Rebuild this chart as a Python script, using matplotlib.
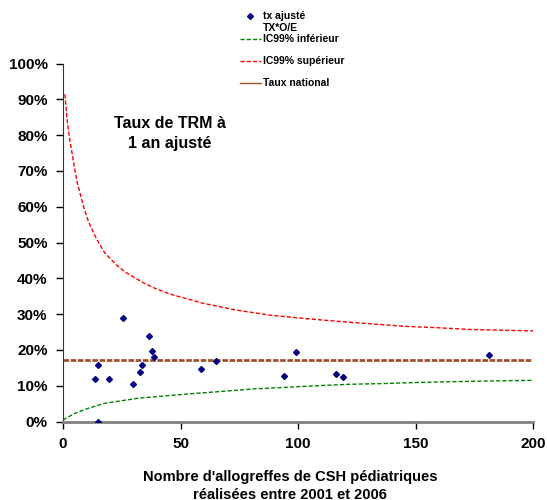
import matplotlib.pyplot as plt
from matplotlib.lines import Line2D

plt.rcParams['font.family'] = ['Liberation Sans', 'DejaVu Sans']

# adjusted rate per centre (number of transplants, rate %)
n_greffes = [25.7, 36.8, 37.9, 38.9, 14.9, 33.7, 32.8, 13.8, 19.7, 29.8,
             14.9, 58.8, 64.9, 94.2, 99.0, 116.0, 119.0, 181.2]
taux_ajuste = [29.0, 23.9, 19.8, 17.9, 15.9, 15.9, 13.7, 11.8, 11.9, 10.6,
               0.0, 14.7, 17.0, 12.6, 19.5, 13.4, 12.4, 18.5]

# upper 99% limit
x_sup = [0.85, 1.8, 3.0, 5.1, 6.0, 8.9, 10.9, 13.3, 15.4, 17.9, 22.8, 26.4,
         33.5, 39.1, 45.5, 59.7, 73.9, 88.1, 102.3, 116.5, 130.6, 144.8,
         159.0, 173.2, 200.0]
ic_sup = [91.4, 84.2, 78.4, 70.2, 67.0, 59.7, 55.8, 52.3, 49.7, 47.0, 43.7,
          41.8, 39.0, 37.2, 35.6, 33.0, 31.1, 29.7, 28.8, 28.0, 27.3, 26.6,
          26.2, 25.7, 25.3]

# lower 99% limit
x_inf = [0.0, 5.1, 10.8, 17.9, 25.0, 32.0, 39.1, 53.3, 67.4, 80.9, 93.7,
         108.0, 122.0, 136.3, 150.5, 164.7, 178.9, 200.0]
ic_inf = [0.4, 2.3, 3.7, 5.1, 5.8, 6.5, 6.9, 7.7, 8.4, 9.1, 9.5, 10.0, 10.4,
          10.6, 10.9, 11.1, 11.3, 11.5]

taux_national = 17.3

fig = plt.figure(figsize=(5.47, 5.0), dpi=100)
ax = fig.add_axes([0.115, 0.157, 0.86, 0.716])

ax.axhline(taux_national, color='#A0522D', lw=2, ls=(0, (2, 0.6)), zorder=2)
ax.plot(x_inf, ic_inf, color='#008000', lw=1, ls=(0, (3, 1.5)), zorder=3)
ax.plot(x_sup, ic_sup, color='#FF0000', lw=1, ls=(0, (3, 1.5)), zorder=3)
ax.plot(n_greffes, taux_ajuste, 'D', color='#000080', ms=3, ls='none', zorder=4)

ax.set_xlim(0, 200)
ax.set_ylim(0, 100)
ax.set_xticks([0, 50, 100, 150, 200])
ax.set_yticks(range(0, 101, 10))
ax.set_yticklabels([f'{v}%' for v in range(0, 101, 10)])
for lab in ax.get_xticklabels() + ax.get_yticklabels():
    lab.set_fontweight('bold')
    lab.set_fontsize(11)
ax.tick_params(direction='out', length=5, width=1, pad=6)

for s in ['top', 'right']:
    ax.spines[s].set_visible(False)
ax.spines['left'].set_color('#333333')
ax.spines['bottom'].set_color('#808080')
ax.spines['bottom'].set_linewidth(2)

ax.set_xlabel("Nombre d'allogreffes de CSH pédiatriques\nréalisées entre 2001 et 2006",
              fontsize=10.5, fontweight='bold', labelpad=14, linespacing=1.3)
ax.xaxis.label.set_x(0.483)

ax.text(45.5, 80.4, 'Taux de TRM à\n1 an ajusté', ha='center', va='center',
        fontsize=11.5, fontweight='bold', linespacing=1.4)

# legend drawn by hand to keep the Excel-like row positions
def fy(py):
    return 1 - py / 500

def fx(px):
    return px / 547

leg_font = dict(fontsize=7.5, fontweight='bold', va='center', ha='left')
fig.add_artist(Line2D([fx(250)], [fy(16)], marker='D', color='#000080', ms=3))
fig.text(fx(263), fy(16), 'tx ajusté', **leg_font)
fig.text(fx(263), fy(28), 'TX*O/E', **leg_font)
rows = [(39, '#008000', (0, (3, 1.5)), 'IC99% inférieur'),
        (61, '#FF0000', (0, (3, 1.5)), 'IC99% supérieur'),
        (82.5, '#A0522D', '-', 'Taux national')]
for py, col, ls, txt in rows:
    fig.add_artist(Line2D([fx(240), fx(261)], [fy(py), fy(py)], color=col, lw=1, ls=ls))
    fig.text(fx(263), fy(py), txt, **leg_font)

fig.savefig('out.png', dpi=100)
